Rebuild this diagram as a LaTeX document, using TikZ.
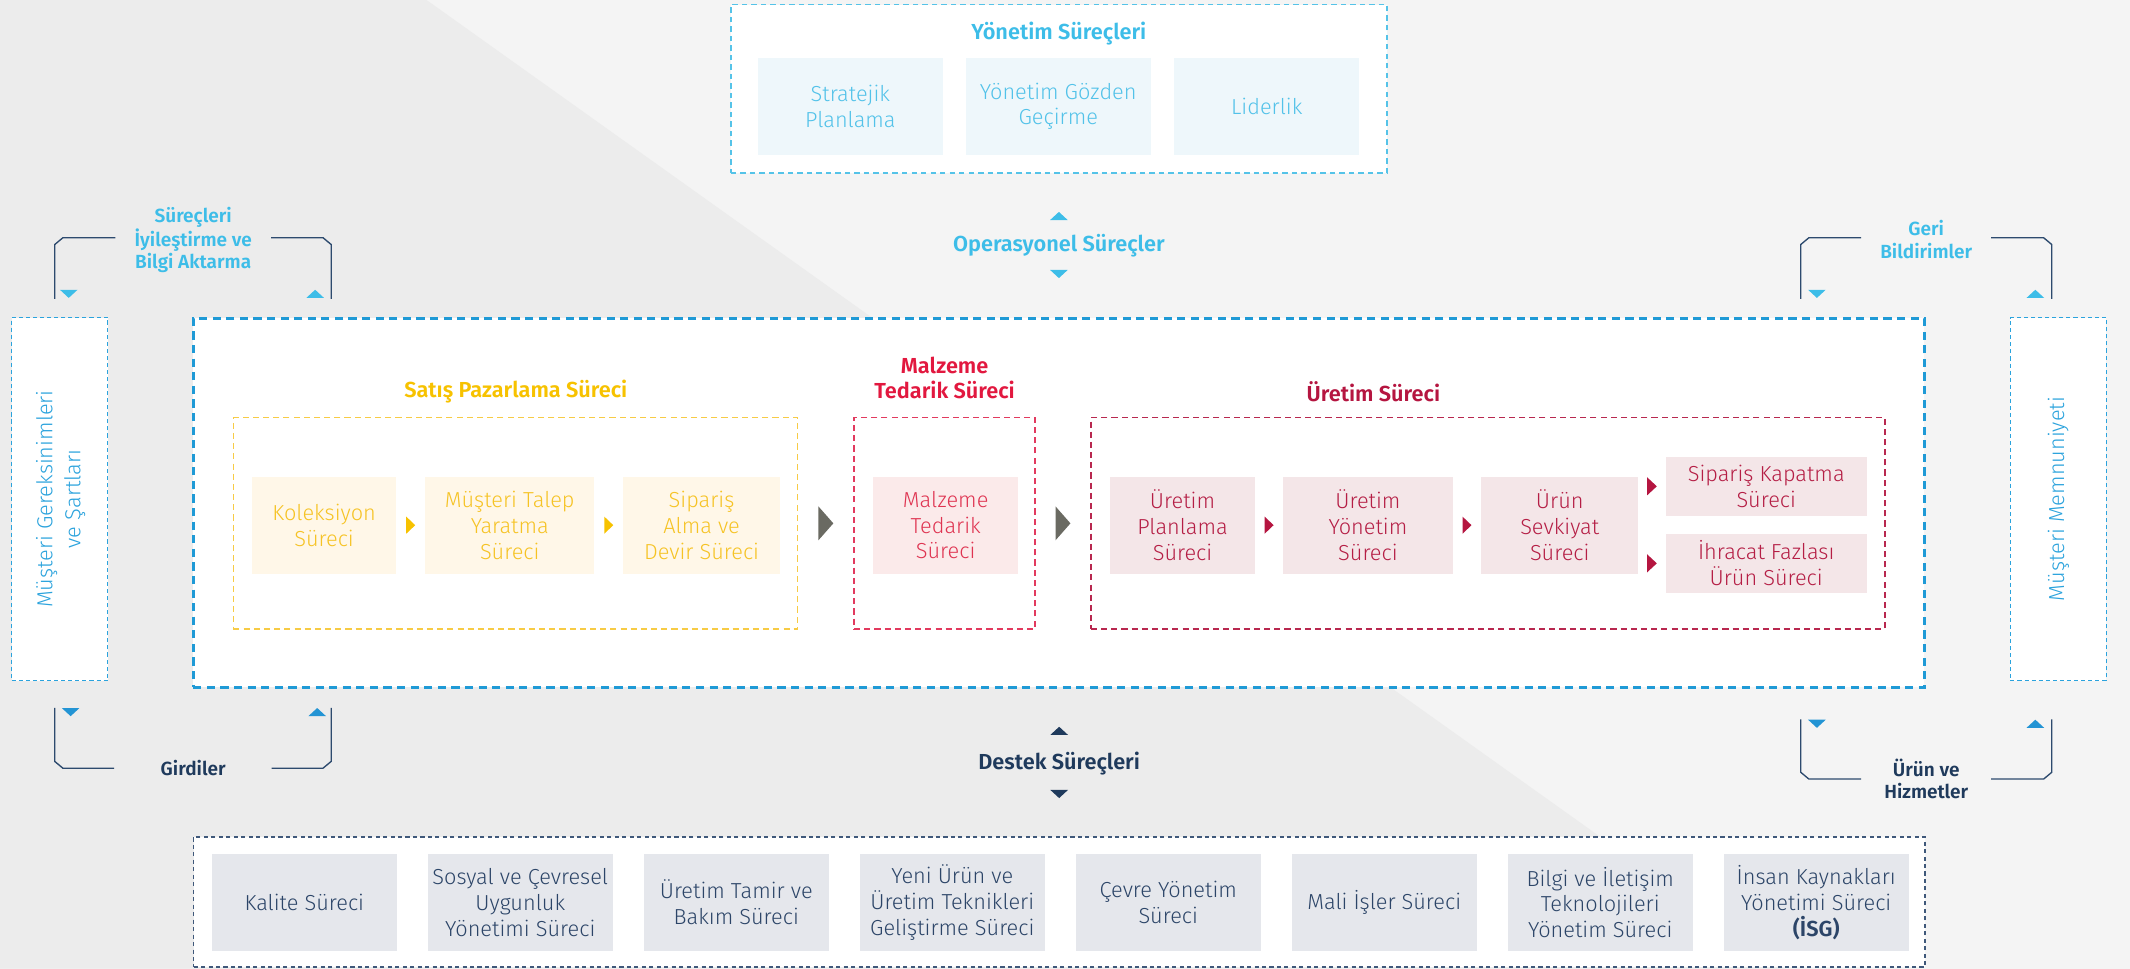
\documentclass[tikz,border=0pt]{standalone}
\usepackage{fontspec}
\setmainfont{Fira Sans}[UprightFont=* Light, BoldFont=* SemiBold]
\usepackage{tikz}
\usetikzlibrary{calc}

\definecolor{bgdark}{HTML}{ECECEC}
\definecolor{bglight}{HTML}{F4F4F4}
\definecolor{opblue}{HTML}{1F9AD6}
\definecolor{skyblue}{HTML}{3DBDE8}
\definecolor{skyline}{HTML}{55C3E8}
\definecolor{skyfill}{HTML}{EEF7FB}
\definecolor{skytext}{HTML}{52C2E9}
\definecolor{custblue}{HTML}{2BA3DD}
\definecolor{tridark}{HTML}{2394D4}
\definecolor{satis}{HTML}{F7C200}
\definecolor{satisline}{HTML}{F7CB45}
\definecolor{satisfill}{HTML}{FFF7E8}
\definecolor{satistext}{HTML}{F6C324}
\definecolor{malz}{HTML}{E2183F}
\definecolor{malzline}{HTML}{E23A5E}
\definecolor{malzfill}{HTML}{FBEAEA}
\definecolor{malztext}{HTML}{DF3451}
\definecolor{uret}{HTML}{B51540}
\definecolor{uretline}{HTML}{B8284F}
\definecolor{uretfill}{HTML}{F4E6E8}
\definecolor{urettext}{HTML}{B51E45}
\definecolor{navy}{HTML}{1F3A5C}
\definecolor{destekline}{HTML}{3F587A}
\definecolor{destekfill}{HTML}{E5E7EC}
\definecolor{destektext}{HTML}{2C4568}
\definecolor{bracket}{HTML}{2D4A6E}
\definecolor{bigarrow}{HTML}{6A6A62}

\tikzset{
  subbox/.style={rectangle, inner sep=0pt, outer sep=0pt, align=center,
    minimum height=71.3pt, font=\fontsize{16}{19}\selectfont},
  groupbox/.style={rectangle, draw, fill=white, line width=1pt,
    dash pattern=on 4.5pt off 3pt, inner sep=0pt, minimum height=155.5pt},
  sidebox/.style={rectangle, draw=custblue, fill=white, line width=1pt,
    dash pattern=on 3pt off 2.2pt, inner sep=0pt, minimum height=267.2pt},
  sidetext/.style={align=center, text=custblue, font=\fontsize{16}{20.6}\selectfont},
  title/.style={align=center, font=\fontsize{16}{18}\selectfont\bfseries},
  sidelabel/.style={align=center, font=\fontsize{14}{16.5}\selectfont\bfseries},
  bracketline/.style={draw=bracket, line width=1pt},
}

\begin{document}
\begin{tikzpicture}[x=1pt,y=-1pt]
    \fill[bglight] (0,0) rectangle (1568,713);
    \fill[bgdark] (0,0) -- (314,0) -- (1314,713) -- (0,713) -- cycle;
    \useasboundingbox (0,0) rectangle (1568,713);

    % management
    \node[rectangle, draw=skyline, fill=white, line width=1.2pt, dash pattern=on 4pt off 3pt,
      minimum width=483pt, minimum height=124pt, inner sep=0pt] (yonbox) at (779.5,65.4) {};
    \node[title, text=skyblue] (yontitle) at (779.5,24.5) {Yönetim Süreçleri};
    \foreach \t/\n/\x in {{Stratejik\\Planlama}/strat/626, {Yönetim Gözden\\Geçirme}/gozden/779,
        {Liderlik}/lider/932.5}
      \node[subbox, fill=skyfill, text=skytext, minimum width=136.5pt, minimum height=71.2pt] (\n) at (\x,78.3) {\t};

    \node[title, text=skyblue] (optitle) at (779.5,181) {Operasyonel Süreçler};

    % operational
    \node[rectangle, draw=opblue, fill=white, line width=2.2pt, dash pattern=on 6pt off 4pt,
      minimum width=1274.3pt, minimum height=271.6pt, inner sep=0pt] (opbox) at (779.45,370) {};
    \node[sidebox, minimum width=70.7pt] (reqbox) at (44,367.4) {};
    \node[sidebox, minimum width=70.5pt] (satbox) at (1515.2,367.4) {};
    \node[sidetext, rotate=90] (reqtext) at (44.7,367.4) {Müşteri Gereksinimleri\\ve Şartları};
    \node[sidetext, rotate=90] (sattext) at (1515.2,367.4) {Müşteri Memnuniyeti};

    \node[groupbox, draw=satisline, minimum width=415.4pt] (satisgrp) at (379.5,385.25) {};
    \node[groupbox, draw=malzline, minimum width=133.3pt] (malzgrp) at (695.35,385.25) {};
    \node[groupbox, draw=uretline, minimum width=584.6pt] (uretgrp) at (1095.3,385.25) {};
    \node[title, text=satis] (satistitle) at (379.7,288.3) {Satış Pazarlama Süreci};
    \node[title, text=malz] (malztitle) at (695.4,278.2) {Malzeme\\Tedarik Süreci};
    \node[title, text=uret] (urettitle) at (1011,288.3) {Üretim Süreci};

    \node[subbox, fill=satisfill, text=satistext, minimum width=106.4pt] (kol) at (238.6,386.6) {Koleksiyon\\Süreci};
    \node[subbox, fill=satisfill, text=satistext, minimum width=124.7pt] (talep) at (375.25,386.6) {Müşteri Talep\\Yaratma\\Süreci};
    \node[subbox, fill=satisfill, text=satistext, minimum width=115.5pt] (alma) at (516.45,386.6) {Sipariş\\Alma ve\\Devir Süreci};
    \node[subbox, fill=malzfill, text=malztext, minimum width=106.7pt] (tedarik) at (696.15,386.6) {Malzeme\\Tedarik\\Süreci};
    \node[subbox, fill=uretfill, text=urettext, minimum width=107pt] (plan) at (870.5,386.6) {Üretim\\Planlama\\Süreci};
    \node[subbox, fill=uretfill, text=urettext, minimum width=125pt] (yon) at (1007,386.6) {Üretim\\Yönetim\\Süreci};
    \node[subbox, fill=uretfill, text=urettext, minimum width=115.7pt] (sevk) at (1148.2,386.6) {Ürün\\Sevkiyat\\Süreci};
    \node[subbox, fill=uretfill, text=urettext, minimum width=148.3pt, minimum height=43.2pt] (kapat) at (1300.2,358) {Sipariş Kapatma\\Süreci};
    \node[subbox, fill=uretfill, text=urettext, minimum width=148.3pt, minimum height=43.3pt] (ihracat) at (1300.2,414.7) {İhracat Fazlası\\Ürün Süreci};

    % flow arrows
    \foreach \a/\b/\c in {kol/talep/satis, talep/alma/satis, plan/yon/uret, yon/sevk/uret}
      \fill[\c] ($(\a.east)!0.5!(\b.west)$) ++(-3.3,-6.3) -- ++(6.6,6.3) -- ++(-6.6,6.3) -- cycle;
    \foreach \b in {kapat, ihracat}
      \fill[uret] ($(sevk.east |- \b.west)!0.5!(\b.west)$) ++(-3.6,-6.7) -- ++(7.2,6.7) -- ++(-7.2,6.7) -- cycle;
    \foreach \a/\b in {satisgrp/malzgrp, malzgrp/uretgrp}
      \fill[bigarrow] ($(\a.east)!0.5!(\b.west)$) ++(-5.5,-12.5) -- ++(11,12.5) -- ++(-11,12.5) -- cycle;

    % support
    \node[title, text=navy] (destek) at (779.7,562) {Destek Süreçleri};
    \node[rectangle, draw=destekline, fill=white, line width=1.2pt, dash pattern=on 3pt off 2.5pt,
      minimum width=1274.5pt, minimum height=96pt, inner sep=0pt] (destekbox) at (779.75,664) {};
    \foreach \t [count=\i from 0] in {{Kalite Süreci}, {Sosyal ve Çevresel\\Uygunluk\\Yönetimi Süreci},
        {Üretim Tamir ve\\Bakım Süreci}, {Yeni Ürün ve\\Üretim Teknikleri\\Geliştirme Süreci},
        {Çevre Yönetim\\Süreci}, {Mali İşler Süreci}, {Bilgi ve İletişim\\Teknolojileri\\Yönetim Süreci},
        {İnsan Kaynakları\\Yönetimi Süreci\\\textbf{(İSG)}}}
      \node[subbox, fill=destekfill, text=destektext, minimum width=136pt] (d\i) at (224+159*\i,664.35) {\t};

    % brackets
    \node[sidelabel, text=skyblue] (improve) at (142.2,176.5) {Süreçleri\\İyileştirme ve\\Bilgi Aktarma};
    \node[sidelabel, text=skyblue] (feedback) at (1418,176.4) {Geri\\Bildirimler};
    \node[sidelabel, text=navy] (inputs) at (142.2,565) {Girdiler};
    \node[sidelabel, text=navy] (outputs) at (1418,573.5) {Ürün ve\\Hizmetler};
    \foreach \xl/\xr/\gl/\gr/\ya/\yb/\s in {40.3/243.8/85/199.5/220/175/1, 40.3/243.8/84/200/521/565.5/-1,
        1325.6/1510.4/1370/1465.7/220/175/1, 1325.6/1510.4/1370/1465.7/529.5/573.5/-1}
    {
      \draw[bracketline] (\xl,\ya) -- (\xl,\yb+5*\s) -- (\xl+6,\yb) -- (\gl,\yb);
      \draw[bracketline] (\gr,\yb) -- (\xr-6,\yb) -- (\xr,\yb+5*\s) -- (\xr,\ya);
    }

    % small triangles (1 = down, -1 = up)
    \foreach \x/\y/\d/\c in {50.6/216.3/1/skyblue, 232/216.3/-1/skyblue, 1337.5/216.3/1/skyblue,
        1498.3/216.3/-1/skyblue, 52/524.2/1/tridark, 233.5/524.2/-1/tridark,
        1337.5/532.8/1/tridark, 1498.3/532.8/-1/tridark, 779.5/159/-1/skyblue, 779.5/201.7/1/skyblue,
        779.7/538/-1/navy, 779.7/584.5/1/navy}
      \fill[\c] (\x,\y) ++(-6.5,-3*\d) -- ++(13,0) -- ++(-6.5,6*\d) -- cycle;
\end{tikzpicture}
\end{document}
